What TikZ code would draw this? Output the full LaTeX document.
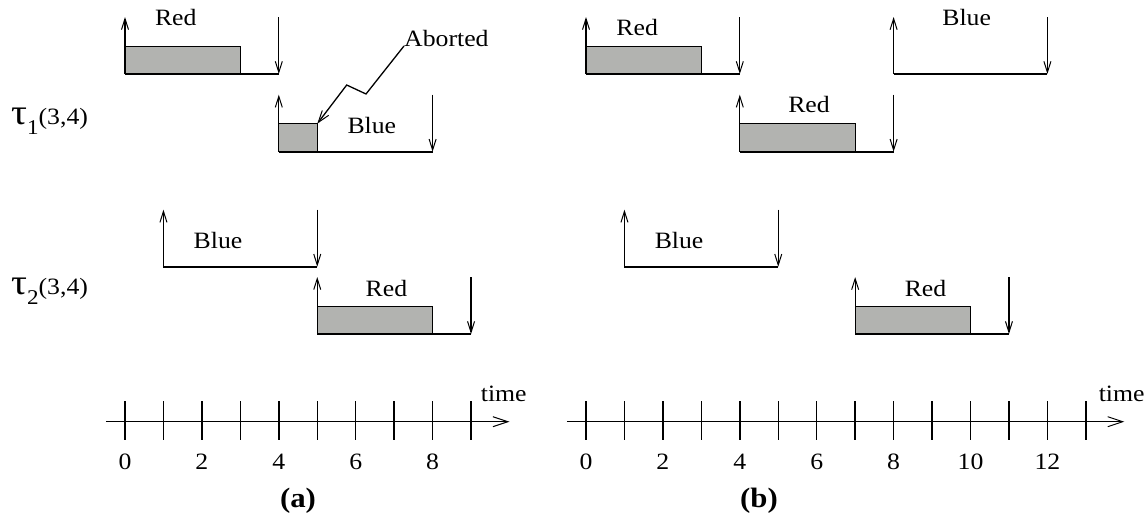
\documentclass[tikz,border=0pt]{standalone}
\usepackage{fontspec}
\setmainfont[FakeStretch=1.1]{Liberation Serif}
\usetikzlibrary{arrows.meta}
\definecolor{execgray}{RGB}{178,179,176}
\tikzset{
  lbl/.style={font=\fontsize{23.4}{24}\selectfont, inner sep=0pt},
  boldlbl/.style={font=\fontsize{28}{28}\selectfont\bfseries, inner sep=0pt},
  runline/.style={line width=2pt},
  execbox/.style={fill=execgray, draw=black, line width=0.9pt},
  rel/.style={line width=1.3pt, -{Straight Barb[length=11pt,width=7pt,line width=1pt]}},
  abortline/.style={line width=1.3pt, -{Straight Barb[length=12pt,width=8pt,line width=1pt]}},
  axisline/.style={line width=1.4pt, -{Straight Barb[length=15pt,width=10pt,line width=1pt]}},
  tickmark/.style={line width=1.4pt},
}
% #1 name, #2 release t, #3 deadline t, #4 baseline y, #5 execution end t (or none)
\newcommand{\Job}[5]{%
  \coordinate (#1-s) at (#2,#4);
  \coordinate (#1-d) at (#3,#4);
  \coordinate (#1-st) at (#2,{#4-57});
  \coordinate (#1-dt) at (#3,{#4-57});
  \def\jobtmpa{#5}\def\jobtmpnone{none}%
  \ifx\jobtmpa\jobtmpnone\else
    \coordinate (#1-e) at (#5,{#4-28});
    \draw[execbox] (#1-s) rectangle (#1-e);
  \fi
  \draw[runline] (#1-s) -- (#1-d);
  \draw[rel] (#1-s) -- (#1-st);
  \draw[rel] (#1-dt) -- (#1-d);
}
\newcommand{\taulabel}[1]{{\fontsize{36}{36}\selectfont τ}\raisebox{-10pt}{\fontsize{21}{21}\selectfont #1}{\fontsize{23.4}{24}\selectfont (3,4)}}
\begin{document}
\begin{tikzpicture}[x=38.45pt,y=-1pt]
\useasboundingbox (0pt,0pt) rectangle (1147pt,-522pt);

% task labels
\node[anchor=base west, inner sep=0pt] (tau1) at (11pt,-124pt) {\taulabel{1}};
\node[anchor=base west, inner sep=0pt] (tau2) at (11pt,-294pt) {\taulabel{2}};

% ---------------- (a) ----------------
\begin{scope}[xshift=125pt]
  \Job{a1r}{0}{4}{74}{3}
  \node[lbl, anchor=base] (a1r-l) at (1.32,25.7) {Red};
  \Job{a1b}{4}{8}{151.7}{5}
  \node[lbl, anchor=base] (a1b-l) at (6.42,133.3) {Blue};
  \Job{a2b}{1}{5}{266.7}{none}
  \node[lbl, anchor=base] (a2b-l) at (2.42,248.3) {Blue};
  \Job{a2r}{5}{9}{334}{8}
  \node[lbl, anchor=base] (a2r-l) at (6.8,296) {Red};

  \node[lbl, anchor=base west] (abort) at (7.256,46) {Aborted};
  \draw[abortline] (abort.base west) -- (6.268,94) -- (5.766,85) -- (a1b-e);

  \coordinate (axa-s) at (-0.5,421.7);
  \coordinate (axa-e) at (10,421.7);
  \draw[axisline] (axa-s) -- (axa-e);
  \foreach \t in {0,...,9} \draw[tickmark] (\t,401) -- (\t,440);
  \foreach \t in {0,2,...,8} \node[lbl, anchor=base] at (\t,469) {\t};
  \node[lbl, anchor=base west] (timea) at (9.25,401) {time};
  \node[boldlbl, anchor=base] (capa) at (4.5,507) {(a)};
\end{scope}

% ---------------- (b) ----------------
\begin{scope}[xshift=586pt]
  \Job{b1r}{0}{4}{74}{3}
  \node[lbl, anchor=base] (b1r-l) at (1.33,35) {Red};
  \Job{b1b}{8}{12}{74}{none}
  \node[lbl, anchor=base] (b1b-l) at (9.9,25.5) {Blue};
  \Job{b1r2}{4}{8}{151.7}{7}
  \node[lbl, anchor=base] (b1r2-l) at (5.8,112.5) {Red};
  \Job{b2b}{1}{5}{266.7}{none}
  \node[lbl, anchor=base] (b2b-l) at (2.42,248.3) {Blue};
  \Job{b2r}{7}{11}{334}{10}
  \node[lbl, anchor=base] (b2r-l) at (8.83,296) {Red};

  \coordinate (axb-s) at (-0.5,421.7);
  \coordinate (axb-e) at (14,421.7);
  \draw[axisline] (axb-s) -- (axb-e);
  \foreach \t in {0,...,13} \draw[tickmark] (\t,401) -- (\t,440);
  \foreach \t in {0,2,...,12} \node[lbl, anchor=base] at (\t,469) {\t};
  \node[lbl, anchor=base west] (timeb) at (13.33,401) {time};
  \node[boldlbl, anchor=base] (capb) at (4.5,507) {(b)};
\end{scope}
\end{tikzpicture}
\end{document}
